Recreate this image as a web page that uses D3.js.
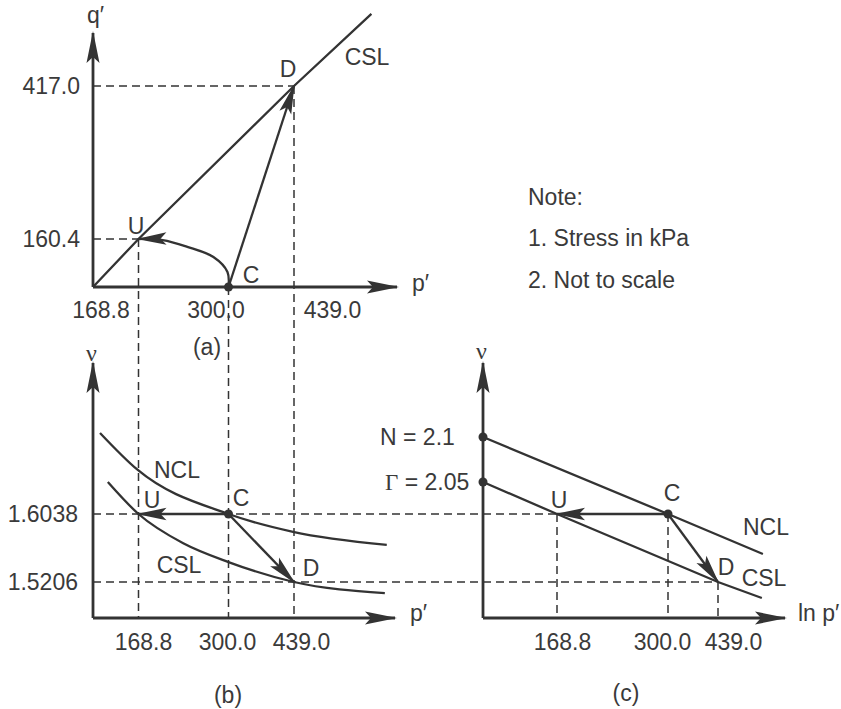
<!DOCTYPE html>
<html><head><meta charset="utf-8">
<script src="https://cdn.jsdelivr.net/npm/d3@7"></script>
<style>body{margin:0;background:#fff}</style>
</head><body>
<svg id="chart" width="841" height="709"></svg>
<script>
// ---------------- data ----------------
const pointNames = ["U", "C", "D"];
const pValues = [168.8, 300.0, 439.0];        // p' (kPa) at U, C, D
const qValues = [160.4, 0.0, 417.0];          // q' (kPa) at U, C, D
const vValues = [1.6038, 1.6038, 1.5206];     // specific volume at U, C, D
const pTickLabels = ["168.8", "300.0", "439.0"];
const qTickValues = [160.4, 417.0];
const qTickLabels = ["160.4", "417.0"];
const vTickValues = [1.6038, 1.5206];
const vTickLabels = ["1.6038", "1.5206"];
const interceptNames = ["N", "Γ"];
const interceptValues = [2.1, 2.05];
const interceptLabels = ["2.1", "2.05"];
// CSL in q'-p' plane (a)
const cslA_p = [0, 168.8, 439.0, 560];
const cslA_q = [0, 160.4, 417.0, 538];
// undrained stress path C -> U (a)
const undrainedP = [300, 298.5, 278, 240, 204, 168.8];
const undrainedQ = [0, 50, 100, 134, 157, 160.4];
// NCL and CSL in v - p' plane (b)
const nclB_p = [26, 165, 300, 437, 584];
const nclB_v = [1.703, 1.658, 1.6038, 1.582, 1.566];
const cslB_p = [55, 168.8, 234, 300, 439, 581];
const cslB_v = [1.643, 1.6038, 1.568, 1.545, 1.5206, 1.507];
// NCL and CSL in v - ln p' plane (c)
const nclC_p = [1, 300, 618];
const nclC_v = [2.1, 1.6038, 1.5548];
const cslC_p = [1, 168.8, 439, 613];
const cslC_v = [2.05, 1.6038, 1.5206, 1.501];
const noteLines = ["Note:", "1. Stress in kPa", "2. Not to scale"];

// ---------------- style / layout ----------------
const ink = "#333";
const textInk = "#3a3a3a";
const FONT = "'Liberation Sans', Arial, Helvetica, sans-serif";
const SERIF = "'Liberation Serif', 'Times New Roman', serif";
const FS = 23;
const A = {x0: 93, y0: 287, xTip: 397, yTip: 33};
const B = {x0: 93, y0: 618, xTip: 395, yTip: 363};
const Cc = {x0: 483, y0: 618, xTip: 785, yTip: 363};

const svg = d3.select("#chart");
const defs = svg.append("defs");
function marker(id, len, hw, notch) {
  defs.append("marker").attr("id", id)
    .attr("viewBox", `${-len - 1} ${-hw - 1} ${len + 4} ${2 * hw + 2}`)
    .attr("refX", 0).attr("refY", 0)
    .attr("markerWidth", len + 4).attr("markerHeight", 2 * hw + 2)
    .attr("markerUnits", "userSpaceOnUse").attr("orient", "auto")
    .append("path")
    .attr("d", `M2,0 L${-len},${-hw} L${-len + notch},0 L${-len},${hw} Z`)
    .attr("fill", ink);
}
marker("axisArrow", 30, 6.5, 6);
marker("pathArrow", 28, 6.2, 6);

// ---------------- scales (schematic: "not to scale") ----------------
const xP = d3.scaleLinear().domain([0, pValues[0], pValues[1], pValues[2], 600])
  .range([A.x0, 138.5, 228.5, 294, 397]);
const yQ = d3.scaleLinear().domain([0, qTickValues[0], qTickValues[1]])
  .range([A.y0, 239, 86]);
const yVB = d3.scaleLinear().domain([vTickValues[1], vTickValues[0]]).range([582, 514]);
const xLn = d3.scaleLinear()
  .domain([0, Math.log(pValues[0]), Math.log(pValues[1]), Math.log(pValues[2])])
  .range([Cc.x0, 557, 668, 718]);
const yVC = d3.scaleLinear()
  .domain([vTickValues[1], vTickValues[0], interceptValues[1], interceptValues[0]])
  .range([582, 514, 482, 437]);

const gDash = svg.append("g").attr("stroke", ink).attr("stroke-width", 1.5)
  .attr("stroke-dasharray", "8,5").attr("fill", "none");
function dash(x1, y1, x2, y2) {
  gDash.append("line").attr("x1", x1).attr("y1", y1).attr("x2", x2).attr("y2", y2);
}

// dashed guides
[0, 2].forEach(i => dash(A.x0, yQ(qValues[i]), xP(pValues[i]), yQ(qValues[i])));
pValues.forEach((p, i) => dash(xP(p), yQ(qValues[i]), xP(p), B.y0));
dash(B.x0, yVB(vValues[0]), xLn(Math.log(pValues[0])), yVC(vValues[0]));
dash(B.x0, yVB(vValues[2]), xLn(Math.log(pValues[2])), yVC(vValues[2]));
pValues.forEach((p, i) => dash(xLn(Math.log(p)), yVC(vValues[i]), xLn(Math.log(p)), Cc.y0));

const gLines = svg.append("g").attr("stroke", ink).attr("stroke-width", 2.3).attr("fill", "none");
const lineA = d3.line().x(d => xP(d[0])).y(d => yQ(d[1]));
const lineB = d3.line().x(d => xP(d[0])).y(d => yVB(d[1]));
const lineC = d3.line().x(d => xLn(Math.log(d[0]))).y(d => yVC(d[1]));

// (a)
gLines.append("path").attr("d", lineA(d3.zip(cslA_p, cslA_q)));
gLines.append("path").attr("marker-end", "url(#pathArrow)")
  .attr("d", lineA.curve(d3.curveCatmullRom.alpha(0.5))(d3.zip(undrainedP, undrainedQ)));
lineA.curve(d3.curveLinear);
gLines.append("path").attr("marker-end", "url(#pathArrow)")
  .attr("d", lineA([[pValues[1], qValues[1]], [pValues[2], qValues[2]]]));

// (b)
gLines.append("path").attr("d", lineB.curve(d3.curveMonotoneX)(d3.zip(nclB_p, nclB_v)));
gLines.append("path").attr("d", lineB(d3.zip(cslB_p, cslB_v)));
lineB.curve(d3.curveLinear);
gLines.append("path").attr("marker-end", "url(#pathArrow)")
  .attr("d", lineB([[pValues[1], vValues[1]], [pValues[0], vValues[0]]]));
gLines.append("path").attr("marker-end", "url(#pathArrow)")
  .attr("d", lineB([[pValues[1], vValues[1]], [pValues[2], vValues[2]]]));

// (c)
gLines.append("path").attr("d", lineC(d3.zip(nclC_p, nclC_v)));
gLines.append("path").attr("d", lineC(d3.zip(cslC_p, cslC_v)));
gLines.append("path").attr("marker-end", "url(#pathArrow)")
  .attr("d", lineC([[pValues[1], vValues[1]], [pValues[0], vValues[0]]]));
gLines.append("path").attr("marker-end", "url(#pathArrow)")
  .attr("d", lineC([[pValues[1], vValues[1]], [pValues[2], vValues[2]]]));

// axes with arrows
const gAxes = svg.append("g").attr("stroke", ink).attr("stroke-width", 2.8).attr("fill", "none");
function axisArrow(x1, y1, x2, y2) {
  gAxes.append("line").attr("x1", x1).attr("y1", y1).attr("x2", x2).attr("y2", y2)
    .attr("marker-end", "url(#axisArrow)");
}
axisArrow(A.x0, A.y0, A.x0, A.yTip); axisArrow(A.x0, A.y0, A.xTip, A.y0);
axisArrow(B.x0, B.y0, B.x0, B.yTip); axisArrow(B.x0, B.y0, B.xTip, B.y0);
axisArrow(Cc.x0, Cc.y0, Cc.x0, Cc.yTip); axisArrow(Cc.x0, Cc.y0, Cc.xTip, Cc.y0);

// dots
const gDots = svg.append("g").attr("fill", ink);
gDots.append("circle").attr("cx", xP(pValues[1])).attr("cy", yQ(qValues[1])).attr("r", 4.5);
gDots.append("circle").attr("cx", xP(pValues[1])).attr("cy", yVB(vValues[1])).attr("r", 4.5);
gDots.append("circle").attr("cx", xLn(Math.log(pValues[1]))).attr("cy", yVC(vValues[1])).attr("r", 4.5);
interceptValues.forEach(v => gDots.append("circle").attr("cx", Cc.x0).attr("cy", yVC(v)).attr("r", 4.5));

// tick labels through d3 axes
function styleAxis(g, dxs) {
  g.select(".domain").remove();
  g.selectAll(".tick line").remove();
  g.attr("font-size", FS).attr("font-family", FONT);
  g.selectAll(".tick text").attr("fill", textInk).attr("dx", (d, i) => dxs[i]);
}
svg.append("g").attr("transform", `translate(0,${A.y0})`)
  .call(d3.axisBottom(xP).tickValues(pValues).tickSize(0).tickPadding(15)
    .tickFormat(d => pTickLabels[pValues.indexOf(d)]))
  .call(g => styleAxis(g, [-38, -13, 38]));
svg.append("g").attr("transform", `translate(${A.x0},0)`)
  .call(d3.axisLeft(yQ).tickValues(qTickValues).tickSize(0).tickPadding(13)
    .tickFormat(d => qTickLabels[qTickValues.indexOf(d)]))
  .call(g => styleAxis(g, [0, 0]));
svg.append("g").attr("transform", `translate(0,${B.y0})`)
  .call(d3.axisBottom(xP).tickValues(pValues).tickSize(0).tickPadding(16)
    .tickFormat(d => pTickLabels[pValues.indexOf(d)]))
  .call(g => styleAxis(g, [4.5, -1.5, 7]));
svg.append("g").attr("transform", `translate(${B.x0},0)`)
  .call(d3.axisLeft(yVB).tickValues(vTickValues).tickSize(0).tickPadding(15)
    .tickFormat(d => vTickLabels[vTickValues.indexOf(d)]))
  .call(g => styleAxis(g, [0, 0]));
const lnTicks = pValues.map(Math.log);
svg.append("g").attr("transform", `translate(0,${Cc.y0})`)
  .call(d3.axisBottom(xLn).tickValues(lnTicks).tickSize(0).tickPadding(16)
    .tickFormat(d => pTickLabels[lnTicks.indexOf(d)]))
  .call(g => styleAxis(g, [5, -6, 15]));

// texts
const gText = svg.append("g").attr("font-family", FONT).attr("font-size", FS).attr("fill", textInk);
function label(txt, x, y, anchor = "middle", dy = "0.36em") {
  return gText.append("text").attr("x", x).attr("y", y).attr("dy", dy)
    .attr("text-anchor", anchor).text(txt);
}
// intercepts N, Γ
interceptValues.forEach((v, i) => {
  const t = gText.append("text").attr("x", i === 0 ? 380 : 385).attr("y", yVC(v)).attr("dy", "0.36em");
  t.append("tspan").attr("font-family", i === 1 ? SERIF : FONT).text(interceptNames[i]);
  t.append("tspan").text(" = " + interceptLabels[i]);
});
// point labels (a)
const U_a = [xP(pValues[0]), yQ(qValues[0])], C_a = [xP(pValues[1]), yQ(qValues[1])], D_a = [xP(pValues[2]), yQ(qValues[2])];
label(pointNames[0], U_a[0] - 2.5, U_a[1] - 13);
label(pointNames[1], C_a[0] + 22.5, C_a[1] - 12);
label(pointNames[2], D_a[0] - 6, D_a[1] - 17);
label("CSL", D_a[0] + 73, D_a[1] - 29);
// (b)
const U_b = [xP(pValues[0]), yVB(vValues[0])], C_b = [xP(pValues[1]), yVB(vValues[1])], D_b = [xP(pValues[2]), yVB(vValues[2])];
label("NCL", C_b[0] - 51.5, C_b[1] - 44);
label(pointNames[0], U_b[0] + 13.5, U_b[1] - 14);
label(pointNames[1], C_b[0] + 12.5, C_b[1] - 16);
label("CSL", U_b[0] + 40.5, U_b[1] + 51);
label(pointNames[2], D_b[0] + 17, D_b[1] - 14);
// (c)
const U_c = [xLn(Math.log(pValues[0])), yVC(vValues[0])], C_c = [xLn(Math.log(pValues[1])), yVC(vValues[1])], D_c = [xLn(Math.log(pValues[2])), yVC(vValues[2])];
label(pointNames[0], U_c[0] + 2, U_c[1] - 14);
label(pointNames[1], C_c[0] + 4, C_c[1] - 21);
label("NCL", C_c[0] + 98, C_c[1] + 13);
label(pointNames[2], D_c[0] + 8, D_c[1] - 15);
label("CSL", D_c[0] + 46, D_c[1] - 4);
// axis titles
label("q′", 87, 23, "start", "0");
label("p′", 412, 291, "start", "0");
label("p′", 410, 621, "start", "0");
label("ln p′", 798, 621, "start", "0");
gText.append("text").attr("x", B.x0 - 1.5).attr("y", 361).attr("text-anchor", "middle")
  .attr("font-family", SERIF).attr("font-size", 24).text("ν");
gText.append("text").attr("x", Cc.x0 - 1.5).attr("y", 359).attr("text-anchor", "middle")
  .attr("font-family", SERIF).attr("font-size", 24).text("ν");
// panel captions
label("(a)", 207, 347);
label("(b)", 228, 695);
label("(c)", 626, 693);
// note
noteLines.forEach((s, i) => label(s, 528, [205, 246, 288][i], "start", "0"));
</script>
</body></html>
